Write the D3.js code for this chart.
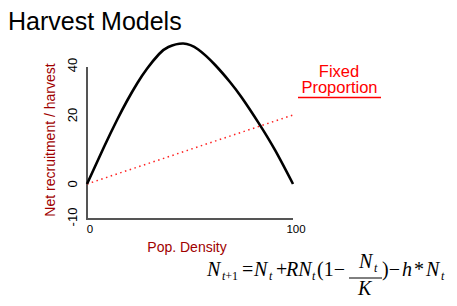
<!DOCTYPE html>
<html><head><meta charset="utf-8">
<script src="https://cdn.jsdelivr.net/npm/d3@7"></script>
<style>html,body{margin:0;padding:0;background:#fff;}svg{display:block;}</style>
</head><body>
<script>
// Data
const popDensity  = [0, 8.3, 14.7, 19.6, 24.4, 29.3, 35, 39.5, 46.7, 54, 62.1, 69.4, 75.1, 83.2, 91.3, 100];
const recruitment = [0, 10.8, 18.7, 25.9, 32.7, 38.7, 44.4, 47.2, 48.6, 46.2, 40.1, 33.2, 27, 17.8, 9.8, 0];
const harvestDensity = [0, 100];
const harvestValue   = [0, 20];
const xTicks = [0, 100];
const yTicks = [-10, 0, 20, 40];

const W = 457, H = 306;
const svg = d3.select("body").append("svg").attr("width", W).attr("height", H);

const x = d3.scaleLinear().domain([0, 100]).range([87, 293]);
const y = d3.scaleLinear().domain([-10, 0, 20, 40]).range([217, 184, 115, 65]);

// Title
svg.append("text").attr("x", 8).attr("y", 30)
  .attr("font-family", "Liberation Sans, Arial, sans-serif").attr("font-size", 25)
  .attr("fill", "#000").text("Harvest Models");

// Axis lines
const axisG = svg.append("g").attr("stroke", "#555").attr("stroke-width", 2);
axisG.append("line").attr("x1", x(0)).attr("x2", x(0)).attr("y1", y(40) + 2).attr("y2", y(-10) + 2);
axisG.append("line").attr("x1", x(0) - 1).attr("x2", x(100)).attr("y1", y(-10) + 2).attr("y2", y(-10) + 2);

// Y tick labels (rotated)
svg.append("g").selectAll("text").data(yTicks).join("text")
  .attr("transform", d => `translate(77,${y(d)}) rotate(-90)`)
  .attr("text-anchor", "middle")
  .attr("font-family", "Liberation Sans, Arial, sans-serif").attr("font-size", 13)
  .attr("fill", "#000").text(d => d);

// X tick labels
svg.append("g").selectAll("text").data(xTicks).join("text")
  .attr("x", d => x(d) + 3).attr("y", 233)
  .attr("text-anchor", "middle")
  .attr("font-family", "Liberation Sans, Arial, sans-serif").attr("font-size", 11.5)
  .attr("fill", "#000").text(d => d);

// Axis titles
svg.append("text").attr("transform", "translate(55,140) rotate(-90)")
  .attr("text-anchor", "middle")
  .attr("font-family", "Liberation Sans, Arial, sans-serif").attr("font-size", 14)
  .attr("fill", "#a00000").text("Net recruitment / harvest");
svg.append("text").attr("x", 187).attr("y", 252)
  .attr("text-anchor", "middle")
  .attr("font-family", "Liberation Sans, Arial, sans-serif").attr("font-size", 14)
  .attr("fill", "#a00000").text("Pop. Density");

// Harvest (fixed proportion) dotted line
const hLine = d3.line().x(d => x(d[0])).y(d => y(d[1]));
svg.append("path").datum(d3.zip(harvestDensity, harvestValue))
  .attr("d", hLine).attr("fill", "none")
  .attr("stroke", "#ff2020").attr("stroke-width", 1.5)
  .attr("stroke-dasharray", "1.5,3.5");

// Recruitment curve
const cLine = d3.line().x(d => x(d[0])).y(d => y(d[1])).curve(d3.curveNatural);
svg.append("path").datum(d3.zip(popDensity, recruitment))
  .attr("d", cLine).attr("fill", "none")
  .attr("stroke", "#000").attr("stroke-width", 2.6);

// Legend label (one text, two lines)
const leg = svg.append("text").attr("text-anchor", "middle")
  .attr("font-family", "Liberation Sans, Arial, sans-serif").attr("font-size", 16.5)
  .attr("fill", "#ff0000");
leg.append("tspan").attr("x", 339).attr("y", 76.5).text("Fixed");
leg.append("tspan").attr("x", 339.5).attr("y", 92.5).text("Proportion");
svg.append("line").attr("x1", 298).attr("x2", 381).attr("y1", 97.5).attr("y2", 97.5)
  .attr("stroke", "#ff0000").attr("stroke-width", 1.4);

// Equation
const eq = svg.append("g").attr("font-family", "Liberation Serif, Times New Roman, serif").attr("fill", "#000");
function piece(px, py, txt, italic, size) {
  eq.append("text").attr("x", px).attr("y", py).attr("font-size", size)
    .attr("font-style", italic ? "italic" : "normal").text(txt);
}
piece(207, 276, "N", true, 20);
const sub1 = eq.append("text").attr("x", 222).attr("y", 280).attr("font-size", 12);
sub1.append("tspan").attr("font-style", "italic").text("t");
sub1.append("tspan").text("+1");
piece(242, 276, "=", false, 20);
piece(254, 276, "N", true, 20);
piece(269, 280, "t", true, 12);
piece(276, 276, "+", false, 20);
piece(286, 276, "RN", true, 20);
piece(312, 280, "t", true, 12);
piece(317, 276, "(1\u2212", false, 20);
piece(359, 268, "N", true, 20);
piece(374, 272, "t", true, 12);
eq.append("line").attr("x1", 349).attr("x2", 382).attr("y1", 278).attr("y2", 278)
  .attr("stroke", "#000").attr("stroke-width", 1);
piece(358, 295, "K", true, 20);
piece(382, 276, ")\u2212", false, 20);
piece(402, 276, "h", true, 20);
piece(414, 276, "*", false, 20);
piece(426, 276, "N", true, 20);
piece(441, 280, "t", true, 12);
</script>
</body></html>
